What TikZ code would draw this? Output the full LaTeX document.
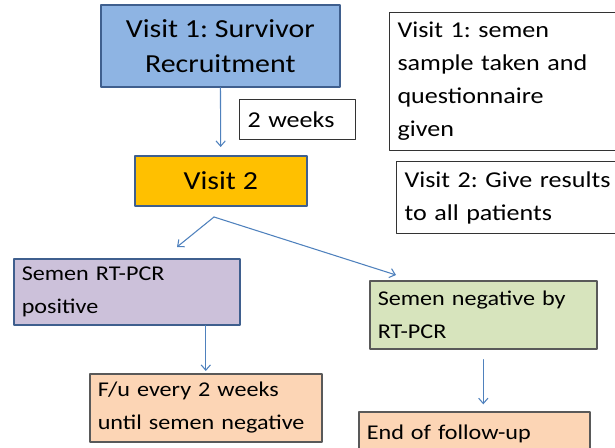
\documentclass[tikz,border=0pt]{standalone}
\usepackage{fontspec}
\setmainfont[FakeStretch=1.15]{Carlito}
\usetikzlibrary{arrows.meta}
\definecolor{blueA}{HTML}{8EB4E3}
\definecolor{gold}{HTML}{FFC000}
\definecolor{lilac}{HTML}{CCC1DA}
\definecolor{sage}{HTML}{D7E4BD}
\definecolor{peach}{HTML}{FCD5B5}
\definecolor{edgeblue}{HTML}{3F5F8E}
\definecolor{edgegray}{HTML}{595959}
\definecolor{linkblue}{HTML}{4F81BD}
\frenchspacing

\begin{document}
\begin{tikzpicture}[x=0.75pt, y=-0.75pt, line join=round, line cap=round,
		>={Straight Barb[length=4pt, width=7pt]},
		flow/.style={anchor=north west, line width=1.2pt, inner xsep=6pt, inner ysep=0pt},
		note/.style={anchor=north west, draw=black!80, line width=0.8pt, fill=white,
			inner xsep=6pt, inner ysep=0pt, align=left},
		bigfont/.style={font=\fontsize{19.5}{26.25}\selectfont},
		smallfont/.style={font=\fontsize{15.75}{24.5}\selectfont},
		notefont/.style={font=\fontsize{17}{24.75}\selectfont},
		link/.style={->, draw=linkblue, line width=0.8pt}]
	\useasboundingbox (0,0) rectangle (615,448);
	% main steps
	\node[flow, bigfont, fill=blueA, draw=edgeblue, align=center,
		minimum width=179.25pt, minimum height=61.5pt] (v1) at (100,4) {Visit 1: Survivor\\Recruitment};
	\node[flow, bigfont, fill=gold, draw=edgeblue, align=center,
		minimum width=129pt, minimum height=37.5pt] (v2) at (134,155) {Visit 2};
	\node[note, notefont, text width=75pt, minimum height=30pt] (wk) at (239,99) {2 weeks};
	% notes on the right
	\node[note, notefont, text width=168pt, minimum height=103.5pt] (n1) at (389,12)
		{Visit 1: semen\\sample taken and\\questionnaire\\given};
	\node[note, notefont, text width=168pt, minimum height=54pt] (n2) at (396,161)
		{Visit 2: Give results\\to all patients};
	% outcomes
	\node[flow, smallfont, fill=lilac, draw=edgeblue, align=left,
		text width=157.5pt, minimum height=49.5pt] (pos) at (13,258) {Semen RT-PCR\\positive};
	\node[flow, smallfont, fill=sage, draw=edgegray, align=left,
		text width=158.25pt, minimum height=51pt] (neg) at (369,280) {Semen negative by\\RT-PCR};
	\node[flow, smallfont, fill=peach, draw=edgegray, align=left,
		text width=162pt, minimum height=51pt] (fu) at (89,373) {F/u every 2 weeks\\until semen negative};
	\node[flow, smallfont, fill=peach, draw=edgegray, align=left,
		text width=161.25pt, minimum height=33pt] (E) at (358,411) {End of follow-up};
	% connectors
	\path
	(214,217) coordinate (S)
	(177,247) coordinate (P)
	(396,275) coordinate (N);
	\draw[link, shorten >=6pt] (v1) -- (v2);
	\draw[link] (S) -- (P);
	\draw[link] (S) -- (N);
	\draw[link, shorten >=1.5pt] (pos.south -| fu.north) -- (fu.north);
	\draw[link, shorten <=7.5pt, shorten >=5pt] (neg.south) -- (neg.south |- E.north);
\end{tikzpicture}
\end{document}
